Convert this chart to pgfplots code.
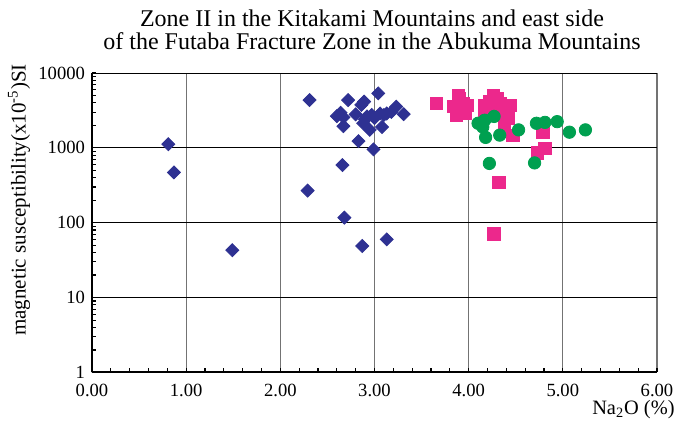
\documentclass[border=0pt]{standalone}
\usepackage{fontspec}
\setmainfont{Liberation Serif}
\usepackage{pgfplots}
\pgfplotsset{compat=1.18}
\definecolor{cblue}{RGB}{46,49,146}
\definecolor{cpink}{RGB}{236,40,140}
\definecolor{cgreen}{RGB}{0,160,80}
\begin{document}
\begin{tikzpicture}
\path[use as bounding box] (-46pt,-24.25pt) rectangle (292.5pt,186.25pt);
\begin{axis}[
 at={(0,0)}, anchor=south west,
 scale only axis, width=282.5pt, height=149.75pt,
 xmin=0, xmax=6, ymin=1, ymax=10000, ymode=log,
 axis x line*=bottom, axis y line*=left,
 axis line style={line width=1pt, -},
 xtick={0,1,2,3,4,5,6}, xticklabels={0.00,1.00,2.00,3.00,4.00,5.00,6.00},
 minor x tick num=4,
 ytick={1,10,100,1000,10000}, yticklabels={1,10,100,1000,10000},
 tick align=inside, tick style={black, line width=0.6pt},
 major tick length=2pt, minor tick length=2pt,
 grid=major,
 x grid style={black!55, line width=0.6pt},
 y grid style={black, line width=0.5pt},
 ticklabel style={font=\fontsize{9.3}{10}\selectfont},
 xticklabel style={yshift=-2.5pt},
 /pgf/number format/assume math mode=true,
 clip=false,
]
\addplot[only marks, mark=square*, mark size=2.3pt, mark options={rotate=45, fill=cblue, draw=cblue}] coordinates {
(0.81,1120) (0.87,470) (1.49,43) (2.31,4350) (2.72,4350) (2.89,4150) (2.86,3740)
(3.04,5350) (3.23,3550) (3.31,2820) (2.64,2940) (2.67,2560) (2.60,2650) (2.67,1950)
(2.92,2630) (2.97,2750) (3.06,2880) (3.13,2880) (3.18,3020) (2.88,2140) (2.95,1740)
(3.08,1900) (2.83,1230) (2.99,955) (2.66,589) (2.29,269) (2.68,117) (2.87,49) (3.13,60)
(2.80,2800) (2.90,2400) (3.00,2500) (3.10,2750)
};
\addplot[only marks, mark=square*, mark size=3.1pt, mark options={fill=cpink, draw=cpink}] coordinates {
(3.66,3900) (3.89,5050) (3.94,3900) (3.84,3550) (3.87,2750) (3.96,2880) (3.98,3720)
(3.90,4500) (3.95,3300)
(4.26,5050) (4.17,3720) (4.17,3020) (4.33,3900) (4.44,3720) (4.40,2880) (4.38,2000)
(4.22,4200) (4.30,4500) (4.35,3300) (4.42,2500) (4.25,3300) (4.20,3300)
(4.47,1480) (4.79,1630) (4.81,980) (4.73,860) (4.32,345) (4.27,71)
};
\addplot[only marks, mark=*, mark size=3.1pt, mark options={fill=cgreen, draw=cgreen}] coordinates {
(4.10,2130) (4.17,2340) (4.27,2630) (4.15,1900) (4.18,1380) (4.33,1480) (4.53,1740)
(4.72,2130) (4.81,2190) (4.94,2240) (5.07,1620) (5.24,1740) (4.22,620) (4.70,630)
};
\end{axis}
\node[rotate=90, font=\fontsize{10.5}{12}\selectfont] at (-36.5pt,86.25pt) {magnetic susceptibility(x10\textsuperscript{-5})SI};
\node[anchor=base east, font=\fontsize{10.2}{12}\selectfont, inner sep=0pt] at (291.5pt,-21.25pt) {Na\textsubscript{2}O (\%)};
\node[anchor=base, font=\fontsize{12}{14}\selectfont, inner sep=0pt] at (140pt,172.75pt) {Zone II in the Kitakami Mountains and east side};
\node[anchor=base, font=\fontsize{12}{14}\selectfont, inner sep=0pt] at (140pt,161.25pt) {of the Futaba Fracture Zone in the Abukuma Mountains};
\end{tikzpicture}
\end{document}
